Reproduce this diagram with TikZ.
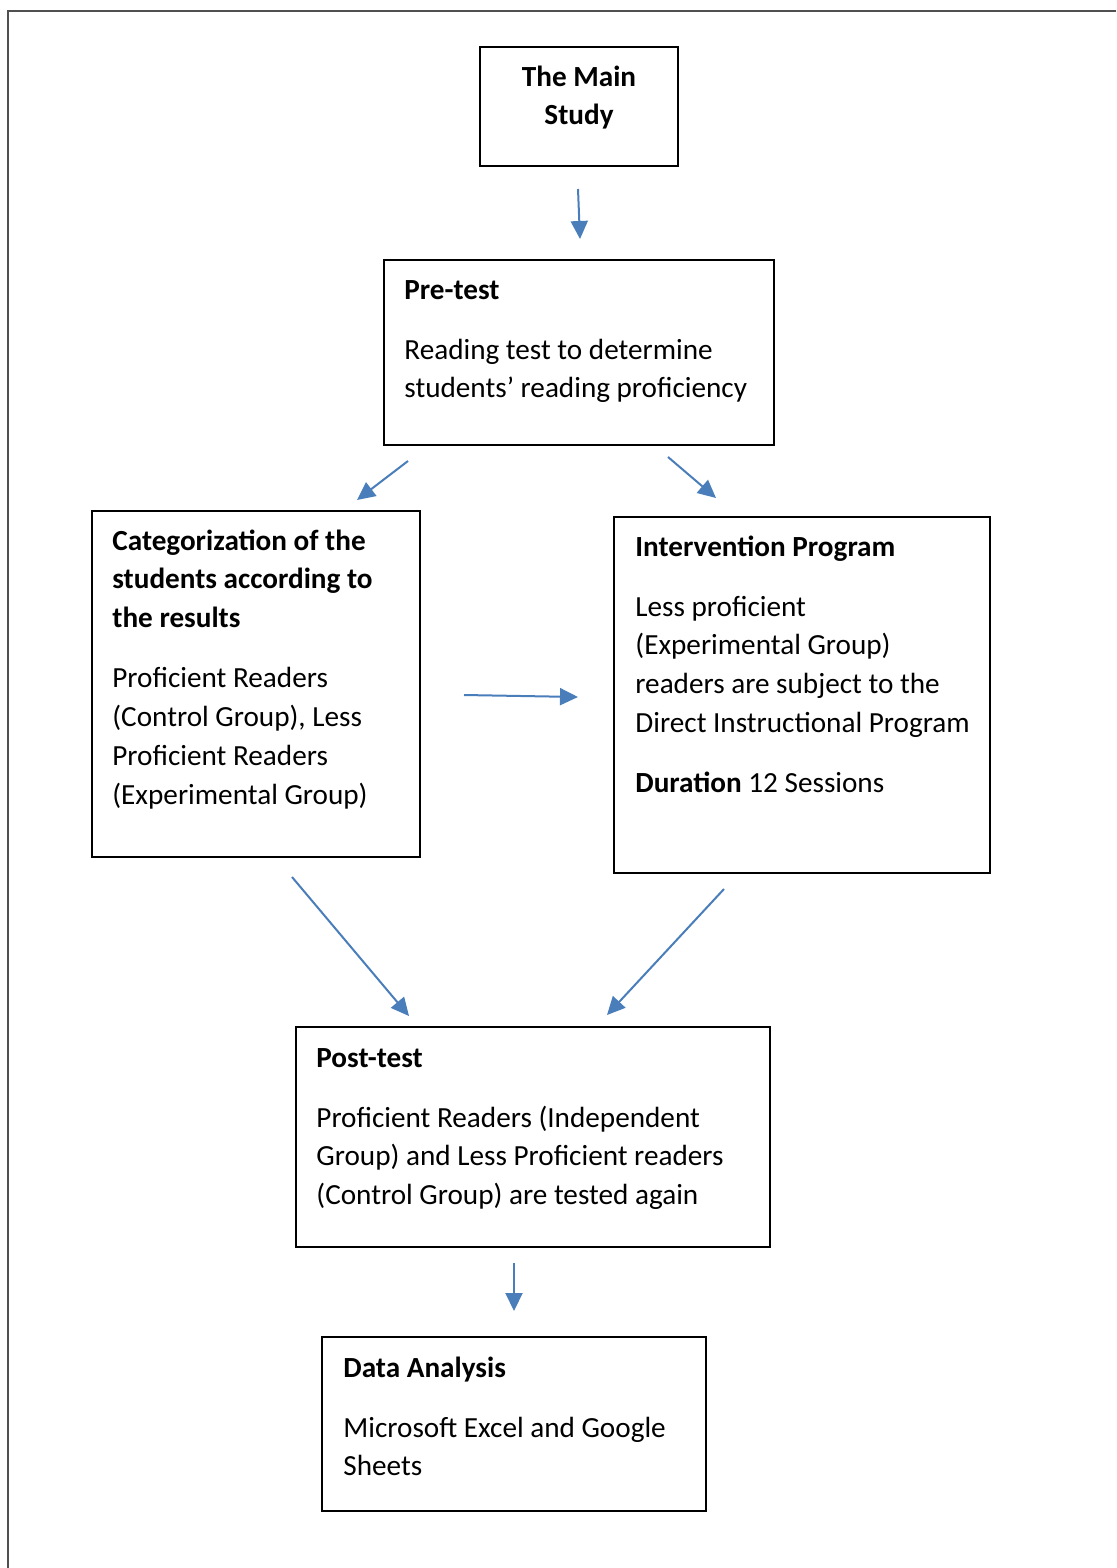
\documentclass[tikz,border=0pt]{standalone}
\usepackage{fontspec}
\setmainfont{Carlito}
\usetikzlibrary{arrows.meta}

\definecolor{azul}{RGB}{74,126,187}
\definecolor{gris}{RGB}{80,80,80}

\begin{document}
\begin{tikzpicture}
  [x=0.5pt, y=-0.5pt,
   caja/.style={draw=black, line width=0.7pt, rectangle, inner sep=0pt},
   texto/.style={anchor=north west, inner sep=0pt, align=left, font=\fontsize{14.6}{19.4}\selectfont},
   flecha/.style={draw=azul, line width=1pt, -{Triangle[width=8.5pt,length=9pt]}},
   marco/.style={draw=gris, line width=1pt}]

  \path[use as bounding box] (0,0) rectangle (1116,1568);

  % Marco exterior
  \draw[marco] (1116,11) -- (8,11) -- (8,1568);

  % Cajas
  \node[caja, minimum width=99pt,  minimum height=59.5pt] (main) at (579,106.5) {};
  \node[caja, minimum width=195pt, minimum height=92.5pt] (pre)  at (579,352.5) {};
  \node[caja, minimum width=164pt, minimum height=173pt]  (cat)  at (256,684) {};
  \node[caja, minimum width=188pt, minimum height=178pt]  (int)  at (802,695) {};
  \node[caja, minimum width=237pt, minimum height=110pt]  (post) at (533,1137) {};
  \node[caja, minimum width=192pt, minimum height=87pt]   (data) at (514,1424) {};

  % Textos
  \node[texto, anchor=north, align=center] (tmain) at (579,58.5)
    {\strut\textbf{The Main}\\\textbf{Study}};
  \node[texto] (tpre) at (404,271.5)
    {\strut\textbf{Pre-test}\\[10.6pt]
     Reading test to determine\\
     students’ reading proficiency};
  \node[texto] (tcat) at (112,522.5)
    {\strut\textbf{Categorization of the}\\
     \textbf{students according to}\\
     \textbf{the results}\\[10.6pt]
     Proficient Readers\\
     (Control Group), Less\\
     Proficient Readers\\
     (Experimental Group)};
  \node[texto] (tint) at (635,528.5)
    {\strut\textbf{Intervention Program}\\[10.6pt]
     Less proficient\\
     (Experimental Group)\\
     readers are subject to the\\
     Direct Instructional Program\\[10.6pt]
     \textbf{Duration} 12 Sessions};
  \node[texto] (tpost) at (316,1039.5)
    {\strut\textbf{Post-test}\\[10.6pt]
     Proficient Readers (Independent\\
     Group) and Less Proficient readers\\
     (Control Group) are tested again};
  \node[texto] (tdata) at (343,1349.5)
    {\strut\textbf{Data Analysis}\\[10.6pt]
     Microsoft Excel and Google\\
     Sheets};

  % Extremos de las flechas
  \coordinate (m1) at (578,189);   \coordinate (m2) at (580,239);
  \coordinate (pc1) at (408,461);  \coordinate (pc2) at (357,500);
  \coordinate (pi1) at (668,457);  \coordinate (pi2) at (716,498);
  \coordinate (ci1) at (464,695);  \coordinate (ci2) at (578,697);
  \coordinate (cp1) at (292,877);  \coordinate (cp2) at (409,1016);
  \coordinate (ip1) at (724,889);  \coordinate (ip2) at (607,1015);
  \coordinate (pd1) at (514,1263); \coordinate (pd2) at (514,1311);

  % Flechas
  \foreach \from/\to in {m1/m2, pc1/pc2, pi1/pi2, ci1/ci2, cp1/cp2, ip1/ip2, pd1/pd2}
    \draw[flecha] (\from) -- (\to);
\end{tikzpicture}
\end{document}
